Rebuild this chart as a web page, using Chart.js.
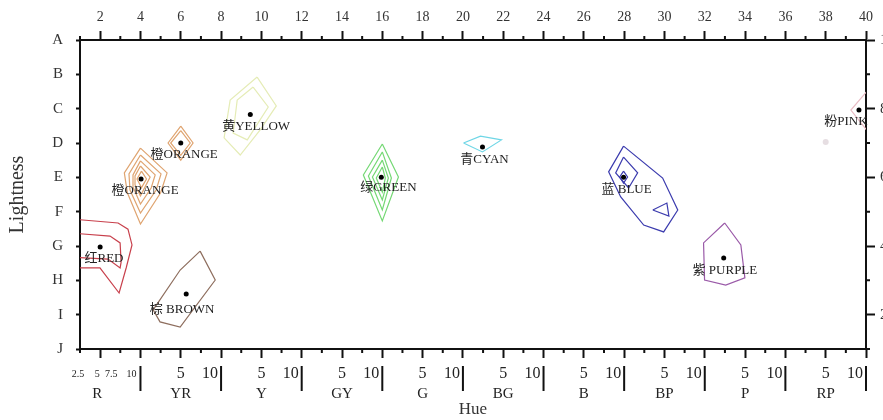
<!DOCTYPE html>
<html>
<head>
<meta charset="utf-8">
<script src="https://cdn.jsdelivr.net/npm/chart.js@4.4.1/dist/chart.umd.min.js"></script>
<style>
  html, body { margin: 0; padding: 0; background: #fff; overflow: hidden; }
  #wrap { width: 883px; height: 420px; position: relative; }
</style>
</head>
<body>
<div id="wrap"><canvas id="hueChart"></canvas></div>
<script>
// ── Data ───────────────────────────────────────────────────────────────────
const lightLetters = ['J', 'I', 'H', 'G', 'F', 'E', 'D', 'C', 'B', 'A'];   // value 1..10
const topTicks = [2, 4, 6, 8, 10, 12, 14, 16, 18, 20, 22, 24, 26, 28, 30, 32, 34, 36, 38, 40];
const rightTicks = [2, 4, 6, 8, 10];

const hueFamilies = ['R', 'YR', 'Y', 'GY', 'G', 'BG', 'B', 'BP', 'P', 'RP'];
const hueFamilyPos = [1.85, 6, 10, 14, 18, 22, 26, 30, 34, 38];
const hueBoundaryPos = [4, 8, 12, 16, 20, 24, 28, 32, 36, 40];
const redFineText = ['2.5', '5', '7.5', '10'];
const redFinePos = [0.9, 1.85, 2.55, 3.55];

// colour-name centres (hue, lightness)
const centreHue = [9.45, 6.0, 4.03, 2.0, 6.27, 15.95, 20.97, 27.97, 32.94, 39.65];
const centreLight = [7.83, 7.0, 5.95, 3.97, 2.6, 6.0, 6.88, 6.0, 3.65, 7.96];
const nameText = ['黄YELLOW', '橙ORANGE', '橙ORANGE', '红RED', '棕 BROWN', '绿GREEN', '青CYAN', '蓝 BLUE', '紫 PURPLE', '粉PINK'];
const nameHue = [9.74, 6.17, 4.23, 2.19, 6.07, 16.3, 21.07, 28.12, 33.0, 39.0];
const nameLight = [7.47, 6.65, 5.6, 3.62, 2.16, 5.69, 6.53, 5.63, 3.27, 7.61];
const faintDot = [[38.0, 7.03]];

// contour rings, [hue, lightness]
const redRings = [
  [[0.5, 4.79], [2.89, 4.67], [3.38, 4.49], [3.58, 4.03], [3.29, 3.36], [2.94, 2.63], [1.99, 3.36], [0.5, 3.36]],
  [[0.5, 4.38], [2.49, 4.29], [2.99, 4.09], [3.04, 3.53], [2.99, 3.36], [2.39, 3.62], [0.5, 3.68]]
];
const orangeLowRings = [
  [[4.0, 6.85], [5.32, 6.13], [5.0, 5.55], [4.0, 4.64], [3.35, 5.55], [3.2, 6.13]],
  [[4.0, 6.65], [5.02, 6.1], [4.78, 5.63], [4.0, 4.96], [3.48, 5.63], [3.43, 6.1]],
  [[4.0, 6.48], [4.73, 6.07], [4.53, 5.69], [4.0, 5.22], [3.63, 5.72], [3.63, 6.07]],
  [[4.0, 6.33], [4.48, 6.01], [4.0, 5.46], [3.73, 5.78], [3.73, 6.04]],
  [[4.05, 6.18], [4.3, 5.95], [4.05, 5.7], [3.83, 5.95]]
];
const orangeHighRings = [
  [[6.0, 7.49], [6.61, 7.0], [6.0, 6.5], [5.37, 7.0]],
  [[6.0, 7.36], [6.47, 7.0], [6.0, 6.64], [5.5, 7.0]]
];
const brownRings = [
  [[6.96, 3.85], [7.71, 3.01], [5.97, 1.64], [4.97, 1.79], [4.63, 2.14], [5.97, 3.3]]
];
const yellowRings = [
  [[9.79, 8.92], [10.74, 8.08], [9.94, 7.38], [8.95, 6.65], [8.15, 7.15], [8.45, 8.25]],
  [[9.59, 8.63], [10.34, 8.05], [9.3, 7.09], [8.6, 7.29], [8.8, 8.25]]
];
const greenRings = [
  [[16.0, 6.97], [16.8, 6.01], [16.0, 4.73], [15.06, 6.07]],
  [[16.0, 6.74], [16.45, 5.98], [16.0, 5.05], [15.31, 6.04]],
  [[16.0, 6.5], [16.3, 5.98], [16.0, 5.34], [15.51, 6.01]],
  [[16.0, 6.3], [16.15, 5.98], [16.0, 5.57], [15.7, 5.98]]
];
const cyanRings = [
  [[20.03, 7.0], [20.87, 7.2], [21.91, 7.09], [20.97, 6.74]]
];
const blueRings = [
  [[27.97, 6.91], [29.91, 5.98], [30.66, 5.05], [29.96, 4.41], [28.97, 4.61], [27.83, 5.43], [27.23, 6.16]],
  [[27.97, 6.59], [28.67, 6.13], [28.22, 5.69], [27.58, 6.13]],
  [[27.97, 6.18], [28.17, 6.01], [27.97, 5.83], [27.78, 6.01]],
  [[29.42, 5.05], [30.12, 5.25], [30.22, 4.87]]
];
const purpleRings = [
  [[32.99, 4.67], [33.79, 4.03], [33.99, 3.07], [33.04, 2.86], [31.99, 3.01], [31.94, 4.09]]
];
const pinkRings = [
  [[40.4, 8.75], [39.25, 7.96], [40.4, 7.1]]
];

// ── Helpers ────────────────────────────────────────────────────────────────
const SERIF = "'Liberation Serif', 'Noto Sans CJK SC', serif";

function ringSets(rings, color, closed = true) {
  return rings.map(r => {
    const pts = r.map(([x, y]) => ({ x, y }));
    if (closed) pts.push({ ...pts[0] });
    return {
      data: pts,
      showLine: true,
      borderColor: color,
      borderWidth: 1.2,
      pointRadius: 0,
      fill: false,
      tension: 0
    };
  });
}

const datasets = [
  ...ringSets(redRings, '#C8404C', false),
  ...ringSets(orangeLowRings, '#DFA470'),
  ...ringSets(orangeHighRings, '#DFA470'),
  ...ringSets(brownRings, '#8E6E5E'),
  ...ringSets(yellowRings, '#E5ECB6'),
  ...ringSets(greenRings, '#74D874'),
  ...ringSets(cyanRings, '#6ED6E6'),
  ...ringSets(blueRings, '#3B3BAE'),
  ...ringSets(purpleRings, '#9A5AA8'),
  ...ringSets(pinkRings, '#E9BCC4', false),
  {
    data: faintDot.map(([x, y]) => ({ x, y })),
    pointRadius: 3,
    backgroundColor: '#E6DEE2',
    borderWidth: 0
  },
  {
    data: centreHue.map((h, i) => ({ x: h, y: centreLight[i] })),
    pointRadius: 2.5,
    backgroundColor: '#000',
    borderWidth: 0
  }
];

// ── Plugins: names, minor ticks, hue labels ─────────────────────────────────
const colourNames = {
  id: 'colourNames',
  afterDatasetsDraw(chart) {
    const { ctx, scales: { x, y } } = chart;
    ctx.save();
    ctx.font = '13px ' + SERIF;
    ctx.fillStyle = '#222';
    ctx.textAlign = 'center';
    ctx.textBaseline = 'middle';
    nameText.forEach((t, i) => {
      ctx.fillText(t, x.getPixelForValue(nameHue[i]), y.getPixelForValue(nameLight[i]));
    });
    ctx.restore();
  }
};

const hueAxisExtras = {
  id: 'hueAxisExtras',
  afterDraw(chart) {
    const { ctx, chartArea: area, scales: { x, y2 } } = chart;
    ctx.save();
    ctx.strokeStyle = '#111';
    ctx.lineWidth = 2;

    // minor ticks
    ctx.beginPath();
    for (let v = 1; v < 40; v += 2) {
      const px = x.getPixelForValue(v);
      ctx.moveTo(px, area.top); ctx.lineTo(px, area.top - 4);
      ctx.moveTo(px, area.bottom); ctx.lineTo(px, area.bottom + 4);
    }
    for (let v = 1; v < 10; v += 2) {
      const py = y2.getPixelForValue(v);
      ctx.moveTo(area.right, py); ctx.lineTo(area.right + 4, py);
    }
    // family boundary bars
    hueBoundaryPos.forEach(v => {
      const px = x.getPixelForValue(v);
      ctx.moveTo(px, area.bottom + 17); ctx.lineTo(px, area.bottom + 42);
    });
    ctx.stroke();

    ctx.fillStyle = '#222';
    ctx.textBaseline = 'middle';
    const numY = area.bottom + 25;

    // R fine numbers
    ctx.font = '10px ' + SERIF;
    ctx.textAlign = 'center';
    redFineText.forEach((t, i) => ctx.fillText(t, x.getPixelForValue(redFinePos[i]), numY));

    // 5 and 10 for other families
    ctx.font = '16px ' + SERIF;
    hueFamilyPos.forEach((p, i) => {
      if (i === 0) return;
      ctx.textAlign = 'center';
      ctx.fillText('5', x.getPixelForValue(p), numY);
      ctx.textAlign = 'right';
      ctx.fillText('10', x.getPixelForValue(hueBoundaryPos[i]) - 3, numY);
    });

    // family names
    ctx.font = '15px ' + SERIF;
    ctx.textAlign = 'center';
    hueFamilies.forEach((f, i) => ctx.fillText(f, x.getPixelForValue(hueFamilyPos[i]), area.bottom + 45));
    ctx.restore();
  }
};

// ── Chart ──────────────────────────────────────────────────────────────────
const setTicks = list => axis => { axis.ticks = list.map(v => ({ value: v })); };
const frame = { display: true, color: '#111', width: 2 };

new Chart(document.getElementById('hueChart'), {
  type: 'scatter',
  data: { datasets },
  options: {
    responsive: true,
    maintainAspectRatio: false,
    animation: false,
    layout: { padding: 0 },
    plugins: { legend: { display: false }, tooltip: { enabled: false } },
    scales: {
      x: {
        type: 'linear', position: 'bottom', min: 1, max: 40,
        afterBuildTicks: setTicks(topTicks),
        afterFit: s => { s.height = 71; },
        border: frame,
        grid: { drawOnChartArea: false, tickLength: 9, tickWidth: 2, tickColor: '#111' },
        ticks: { display: false },
        title: { display: true, text: 'Hue', color: '#333', font: { family: SERIF, size: 17 }, padding: { top: 0, bottom: 0 } }
      },
      xt: {
        type: 'linear', position: 'top', min: 1, max: 40,
        afterBuildTicks: setTicks(topTicks),
        afterFit: s => { s.height = 40; },
        border: frame,
        grid: { drawOnChartArea: false, tickLength: 9, tickWidth: 2, tickColor: '#111' },
        ticks: { color: '#333', padding: 5, font: { family: SERIF, size: 14 } }
      },
      y: {
        type: 'linear', position: 'left', min: 1, max: 10,
        afterBuildTicks: setTicks([1, 2, 3, 4, 5, 6, 7, 8, 9, 10]),
        afterFit: s => { s.width = 80; },
        border: frame,
        grid: { drawOnChartArea: false, tickLength: 4, tickWidth: 2, tickColor: '#111' },
        ticks: { color: '#333', padding: 13, font: { family: SERIF, size: 15 }, callback: v => lightLetters[v - 1] },
        title: { display: true, text: 'Lightness', color: '#333', font: { family: SERIF, size: 20 }, padding: { top: 6, bottom: 0 } }
      },
      y2: {
        type: 'linear', position: 'right', min: 1, max: 10,
        afterBuildTicks: setTicks(rightTicks),
        afterFit: s => { s.width = 17; },
        border: frame,
        grid: { drawOnChartArea: false, tickLength: 9, tickWidth: 2, tickColor: '#111' },
        ticks: { color: '#333', padding: 5, font: { family: SERIF, size: 15 } }
      }
    }
  },
  plugins: [colourNames, hueAxisExtras]
});
</script>
</body>
</html>
